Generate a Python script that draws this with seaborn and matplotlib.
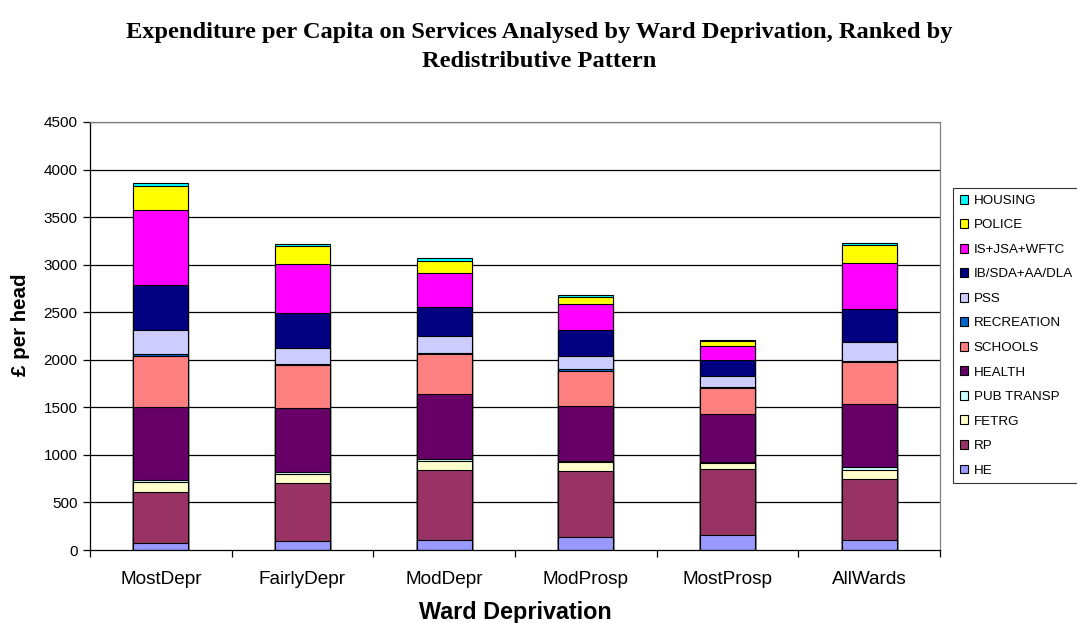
import numpy as np
import pandas as pd
import matplotlib
matplotlib.use("Agg")
import matplotlib.pyplot as plt
import seaborn as sns
from matplotlib.patches import Patch

categories = ["MostDepr", "FairlyDepr", "ModDepr", "ModProsp", "MostProsp", "AllWards"]
series_names = ["HE", "RP", "FETRG", "PUB TRANSP", "HEALTH", "SCHOOLS",
                "RECREATION", "PSS", "IB/SDA+AA/DLA", "IS+JSA+WFTC", "POLICE", "HOUSING"]
HE = [75, 95, 105, 140, 155, 105]
RP = [530, 610, 740, 690, 700, 640]
FETRG = [110, 90, 90, 90, 55, 100]
PUB_TRANSP = [25, 25, 25, 15, 10, 25]
HEALTH = [760, 670, 680, 580, 515, 665]
SCHOOLS = [535, 450, 420, 370, 265, 440]
RECREATION = [30, 20, 15, 18, 10, 17]
PSS = [250, 165, 175, 140, 120, 190]
IB_SDA = [475, 370, 310, 265, 170, 350]
IS_JSA = [780, 510, 350, 280, 145, 485]
POLICE = [255, 190, 130, 75, 50, 185]
HOUSING = [35, 25, 30, 15, 8, 30]
colors = ["#9999FF", "#993366", "#FFFFCC", "#CCFFFF", "#660066", "#FF8080",
          "#0066CC", "#CCCCFF", "#000080", "#FF00FF", "#FFFF00", "#00FFFF"]
yticks = list(range(0, 4501, 500))

values = [HE, RP, FETRG, PUB_TRANSP, HEALTH, SCHOOLS, RECREATION, PSS,
          IB_SDA, IS_JSA, POLICE, HOUSING]
df = pd.DataFrame(dict(zip(series_names, values)), index=categories)
cum = df.cumsum(axis=1)

sns.set_theme(style="white")
plt.rcParams["font.family"] = ["Liberation Sans", "DejaVu Sans"]
plt.rcParams.update({"text.color": "black", "axes.labelcolor": "black",
                     "xtick.color": "black", "ytick.color": "black"})

fig = plt.figure(figsize=(10.77, 6.23), dpi=100)
ax = fig.add_axes([90/1077, 1-550/623, 850/1077, 428/623])

for s in yticks[1:]:
    ax.axhline(s, color="black", lw=0.9, zorder=0)

for name, col in reversed(list(zip(series_names, colors))):
    d = pd.DataFrame({"cat": categories, "val": cum[name].values})
    sns.barplot(data=d, x="cat", y="val", order=categories, color=col,
                width=0.39, errorbar=None, edgecolor="black", linewidth=0.8,
                saturation=1, ax=ax, zorder=2)

ax.set_ylim(0, 4500)
ax.set_xlim(-0.5, 5.5)
ax.set_yticks(yticks)
ax.set_yticklabels([str(t) for t in yticks], fontsize=11, color="black")
ax.set_xticks(range(len(categories)))
ax.set_xticklabels(categories, fontsize=13.7, color="black")
ax.set_xticks(np.arange(-0.5, 6.0, 1.0), minor=True)
ax.tick_params(axis="x", which="major", length=0, pad=15)
ax.tick_params(axis="x", which="minor", length=5, width=0.9, color="black", direction="out", bottom=True)
ax.tick_params(axis="y", length=5, width=0.9, color="black", direction="out", left=True, pad=4)
for sp in ["left", "bottom"]:
    ax.spines[sp].set_color("black")
    ax.spines[sp].set_linewidth(0.9)
for sp in ["top", "right"]:
    ax.spines[sp].set_color("#808080")
    ax.spines[sp].set_linewidth(0.9)

ax.set_xlabel("Ward Deprivation", fontsize=16.8, fontweight="bold", color="black")
ax.xaxis.label.set_va("baseline")
ax.xaxis.set_label_coords(0.5, -(619 - 550) / 428)
ax.set_ylabel("£ per head", fontsize=14.8, fontweight="bold", color="black")
ax.yaxis.label.set_va("center")
ax.yaxis.set_label_coords((21 - 90) / 850, (550 - 325) / 428)

fig.text(539/1077, 1-47/623,
         "Expenditure per Capita on Services Analysed by Ward Deprivation, Ranked by\nRedistributive Pattern",
         ha="center", va="center", fontsize=17.6, fontweight="bold", color="black",
         family=["Liberation Serif", "DejaVu Serif"], linespacing=1.5)

handles = [Patch(facecolor=c, edgecolor="black", linewidth=0.8, label=n)
           for n, c in zip(series_names, colors)][::-1]
leg = fig.legend(handles=handles, loc="upper left",
                 bbox_to_anchor=(953/1077, 1-188/623), fontsize=9.6,
                 frameon=True, fancybox=False, edgecolor="black",
                 handlelength=0.65, handleheight=0.65, handletextpad=0.4,
                 labelspacing=0.93, borderpad=0.5, borderaxespad=0)
leg.get_frame().set_linewidth(0.8)
for t in leg.get_texts():
    t.set_color("black")

fig.savefig("out.png", dpi=100, facecolor="white")
